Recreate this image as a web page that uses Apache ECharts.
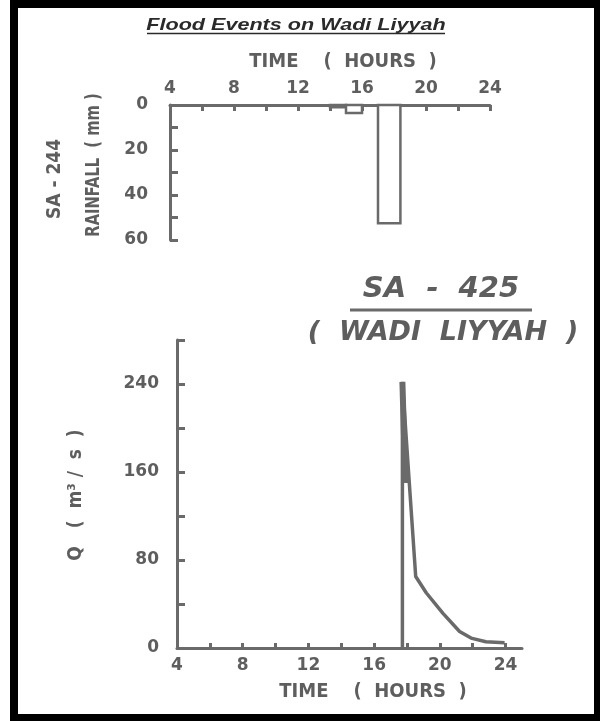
<!DOCTYPE html>
<html>
<head>
<meta charset="utf-8">
<script src="https://cdn.jsdelivr.net/npm/echarts@6/dist/echarts.min.js"></script>
<style>
html,body{margin:0;padding:0;background:#fff;}
#chart{width:600px;height:721px;}
</style>
</head>
<body>
<div id="chart"></div>
<script>
// ---- data ----
const titleText = 'Flood Events on Wadi Liyyah';
const timeTicksTop = [4, 8, 12, 16, 20, 24];
const rainTicks = [0, 20, 40, 60];
const qTicks = [0, 80, 160, 240];
// rainfall blocks: [start hour, end hour, rainfall mm]
const rainStart = [14, 15, 17];
const rainEnd = [15, 16, 18.4];
const rainMm = [1, 3.5, 52.5];
// hydrograph
const qTime = [17.72, 17.72, 18.53, 19.18, 20.19, 21.2, 21.9, 22.8, 23.94];
const qFlow = [0, 242, 65, 50, 31.5, 15, 9, 5.7, 4.8];
const qInnerTime = [17.72, 17.9];
const qInnerFlow = [242, 150];

const grey = '#6a6a6a';
const txtGrey = '#5e5e5e';
const fontF = '"DejaVu Sans", sans-serif';
const condF = '"DejaVu Sans Condensed", "DejaVu Sans", sans-serif';

const rainData = rainStart.map((s, i) => [s, rainEnd[i], rainMm[i]]);
const qData = qTime.map((t, i) => [t, qFlow[i]]);
const qInner = qInnerTime.map((t, i) => [t, qInnerFlow[i]]);

const chart = echarts.init(document.getElementById('chart'));
const labelStyle = {color: txtGrey, fontFamily: fontF, fontWeight: 'bold', fontSize: 17};

chart.setOption({
  animation: false,
  backgroundColor: '#fff',
  grid: [
    {left: 170, width: 320, top: 105, height: 135},
    {left: 177, width: 345, top: 340, height: 308}
  ],
  xAxis: [
    {
      gridIndex: 0, type: 'value', position: 'top', min: 4, max: 24, interval: 2,
      axisLine: {show: true, lineStyle: {color: grey, width: 3}},
      axisTick: {show: true, inside: true, length: 6, lineStyle: {color: grey, width: 3}},
      axisLabel: Object.assign({margin: 8, formatter: v => timeTicksTop.includes(v) ? String(v) : ''}, labelStyle),
      splitLine: {show: false}
    },
    {
      gridIndex: 1, type: 'value', position: 'bottom', min: 4, max: 25, interval: 2,
      axisLine: {show: true, onZero: false, lineStyle: {color: grey, width: 3}},
      axisTick: {show: true, inside: true, length: 5, lineStyle: {color: grey, width: 3}},
      axisLabel: Object.assign({margin: 9, showMaxLabel: false, formatter: v => timeTicksTop.includes(v) ? String(v) : ''}, labelStyle),
      splitLine: {show: false}
    }
  ],
  yAxis: [
    {
      gridIndex: 0, type: 'value', inverse: true, min: 0, max: 60, interval: 10,
      axisLine: {show: true, lineStyle: {color: grey, width: 3}},
      axisTick: {show: true, inside: true, length: 8, lineStyle: {color: grey, width: 3}},
      axisLabel: Object.assign({margin: 22, formatter: v => rainTicks.includes(v) ? String(v) : ''}, labelStyle),
      splitLine: {show: false}
    },
    {
      gridIndex: 1, type: 'value', min: 0, max: 280, interval: 40,
      axisLine: {show: true, onZero: false, lineStyle: {color: grey, width: 3}},
      axisTick: {show: true, inside: true, length: 8, lineStyle: {color: grey, width: 3}},
      axisLabel: Object.assign({margin: 18, formatter: v => qTicks.includes(v) ? String(v) : ''}, labelStyle),
      splitLine: {show: false}
    }
  ],
  series: [
    {
      type: 'custom', xAxisIndex: 0, yAxisIndex: 0, data: rainData,
      renderItem: function (params, api) {
        const p0 = api.coord([api.value(0), 0]);
        const p1 = api.coord([api.value(1), api.value(2)]);
        return {
          type: 'rect',
          shape: {x: p0[0], y: p0[1], width: p1[0] - p0[0], height: p1[1] - p0[1]},
          style: {fill: '#fff', stroke: grey, lineWidth: 2.5}
        };
      }
    },
    {
      type: 'line', xAxisIndex: 1, yAxisIndex: 1, data: qData, symbol: 'none',
      lineStyle: {color: grey, width: 3.5}
    },
    {
      type: 'line', xAxisIndex: 1, yAxisIndex: 1, data: qInner, symbol: 'none',
      lineStyle: {color: grey, width: 6}
    }
  ],
  graphic: [
    {type: 'rect', shape: {x: 14, y: 4, width: 584, height: 714}, style: {fill: 'none', stroke: '#000', lineWidth: 8}},
    {type: 'text', x: 296, y: 25, scaleX: 1.27, style: {text: titleText, fill: '#2a2a2a', font: 'italic bold 17px "Liberation Sans", Arial, sans-serif', textAlign: 'center', textVerticalAlign: 'middle'}},
    {type: 'line', shape: {x1: 147, y1: 33.5, x2: 445, y2: 33.5}, style: {stroke: '#2a2a2a', lineWidth: 1.5}},
    {type: 'text', x: 343, y: 62, style: {text: 'TIME    (  HOURS  )', fill: txtGrey, font: 'bold 20px ' + condF, textAlign: 'center', textVerticalAlign: 'middle'}},
    {type: 'text', x: 373, y: 692, style: {text: 'TIME    (  HOURS  )', fill: txtGrey, font: 'bold 20px ' + condF, textAlign: 'center', textVerticalAlign: 'middle'}},
    {type: 'text', x: 55, y: 179, rotation: Math.PI / 2, style: {text: 'SA - 244', fill: txtGrey, font: 'bold 19px ' + condF, textAlign: 'center', textVerticalAlign: 'middle'}},
    {type: 'text', x: 94, y: 165, rotation: Math.PI / 2, scaleX: 0.86, style: {text: 'RAINFALL  ( mm )', fill: txtGrey, font: 'bold 19px ' + condF, textAlign: 'center', textVerticalAlign: 'middle'}},
    {type: 'text', x: 76, y: 495, rotation: Math.PI / 2, style: {text: 'Q   (  m³ /  s  )', fill: txtGrey, font: 'bold 19px ' + condF, textAlign: 'center', textVerticalAlign: 'middle'}},
    {type: 'text', x: 441, y: 289, style: {text: 'SA  -  425', fill: txtGrey, font: 'italic bold 29px "DejaVu Sans", sans-serif', textAlign: 'center', textVerticalAlign: 'middle'}},
    {type: 'line', shape: {x1: 350, y1: 310, x2: 532, y2: 310}, style: {stroke: grey, lineWidth: 3}},
    {type: 'text', x: 443, y: 333, style: {text: '(  WADI  LIYYAH  )', fill: txtGrey, font: 'italic bold 27px "DejaVu Sans", sans-serif', textAlign: 'center', textVerticalAlign: 'middle'}}
  ]
});
</script>
</body>
</html>
